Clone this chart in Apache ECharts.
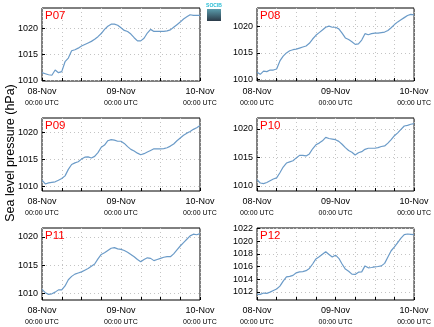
<!DOCTYPE html>
<html><head><meta charset="utf-8">
<script src="https://cdn.jsdelivr.net/npm/echarts@6/dist/echarts.min.js"></script>
<style>html,body{margin:0;padding:0;background:#fff}#c{width:434px;height:327px}</style>
</head><body><div id="c"></div>
<script>
// hours since 08-Nov 00:00 UTC
const hours = [0,1,2,3,4,5,6,7,8,9,10,11,12,13,14,15,16,17,18,19,20,21,22,23,24,25,26,27,28,29,30,31,32,33,34,35,36,37,38,39,40,41,42,43,44,45,46,47,48];
const xTickLabels = {0:'08-Nov', 24:'09-Nov', 48:'10-Nov'};
const xSubLabel = '00:00 UTC';
const stations = ['P07','P08','P09','P10','P11','P12'];
const p07 = [1011.5,1011.3,1011.1,1011.0,1012.0,1011.5,1011.7,1013.6,1014.3,1015.7,1015.9,1016.2,1016.6,1016.9,1017.2,1017.5,1017.9,1018.4,1019.0,1019.8,1020.4,1020.8,1020.8,1020.6,1020.1,1019.6,1019.4,1018.9,1018.2,1017.6,1017.6,1018.1,1019.1,1019.8,1019.4,1019.4,1019.4,1019.4,1019.5,1019.7,1020.2,1020.7,1021.2,1021.8,1022.2,1022.6,1022.5,1022.5,1022.5];
const p08 = [1011.4,1011.0,1011.6,1011.5,1011.8,1011.8,1012.0,1013.5,1014.4,1015.0,1015.4,1015.6,1015.7,1015.9,1016.1,1016.3,1016.8,1017.6,1018.3,1018.8,1019.3,1019.8,1020.0,1019.8,1019.8,1019.5,1018.7,1017.8,1017.5,1017.1,1016.6,1016.7,1017.4,1018.6,1018.4,1018.6,1018.7,1018.7,1018.8,1018.9,1019.2,1019.7,1020.3,1020.8,1021.2,1021.6,1022.0,1022.2,1022.1];
const p09 = [1011.1,1010.4,1010.6,1010.7,1010.8,1011.1,1011.4,1011.9,1013.1,1014.0,1014.3,1014.5,1015.0,1015.35,1015.4,1015.2,1015.5,1016.2,1017.2,1017.6,1018.4,1018.6,1018.5,1018.3,1018.3,1017.9,1017.3,1016.8,1016.5,1016.1,1015.8,1016.0,1016.3,1016.6,1016.9,1016.9,1016.9,1016.95,1017.1,1017.4,1017.8,1018.4,1018.9,1019.4,1019.8,1020.1,1020.5,1020.8,1021.2];
const p10 = [1011.1,1010.5,1010.4,1010.6,1010.9,1011.2,1011.4,1012.3,1013.3,1014.0,1014.2,1014.4,1014.9,1015.35,1015.35,1015.25,1015.6,1016.5,1017.2,1017.5,1017.9,1018.5,1018.3,1018.2,1018.1,1017.8,1017.3,1016.7,1016.2,1015.9,1015.4,1015.8,1016.0,1016.4,1016.6,1016.6,1016.6,1016.7,1016.9,1017.0,1017.5,1018.1,1018.8,1019.3,1019.9,1020.5,1020.6,1020.8,1020.9];
const p11 = [1010.7,1010.1,1009.8,1009.9,1010.2,1010.6,1010.6,1011.3,1012.4,1013.0,1013.4,1013.6,1013.8,1014.1,1014.4,1014.8,1015.2,1016.1,1016.9,1017.2,1017.6,1018.0,1018.1,1017.9,1017.8,1017.6,1017.3,1016.9,1016.5,1016.0,1015.6,1016.0,1016.3,1016.2,1015.8,1016.0,1016.2,1016.4,1016.5,1016.5,1017.0,1017.7,1018.4,1019.0,1019.6,1020.2,1020.5,1020.4,1020.6];
const p12 = [1011.6,1011.6,1011.8,1011.75,1011.95,1012.2,1012.45,1012.9,1013.7,1014.35,1014.45,1014.6,1015.0,1015.15,1015.2,1015.35,1015.7,1016.4,1017.2,1017.55,1017.95,1018.35,1017.9,1017.5,1017.8,1017.3,1016.4,1015.6,1015.25,1014.8,1014.75,1015.1,1015.15,1016.1,1015.8,1015.85,1015.95,1016.0,1016.1,1016.5,1017.5,1018.5,1019.1,1019.8,1020.5,1021.05,1021.15,1021.1,1021.05];
const yTicksA = [1010,1015,1020];
const yTicksP12 = [1012,1014,1016,1018,1020,1022];
const yRanges = [[1009.9,1023.9],[1009.75,1023.4],[1009.1,1022.6],[1009.1,1021.9],[1008.8,1021.6],[1010.7,1022.1]];
const yLabel = 'Sea level pressure (hPa)';

const allSeries = [p07,p08,p09,p10,p11,p12];
const allTicks = [yTicksA,yTicksA,yTicksA,yTicksA,yTicksA,yTicksP12];
const grids = [
  {left:42, top:8, width:158, height:73},
  {left:257, top:8, width:158, height:73},
  {left:42, top:118, width:158, height:73},
  {left:257, top:118, width:158, height:73},
  {left:42, top:228, width:158, height:72},
  {left:257, top:228, width:158, height:72}
];
const FONT = 'Liberation Sans';
const chart = echarts.init(document.getElementById('c'), null, {renderer:'canvas'});
const option = {
  backgroundColor:'#fff',
  animation:false,
  grid: grids.map(g => Object.assign({show:true, borderColor:'#000', borderWidth:1, backgroundColor:'transparent', containLabel:false}, g)),
  xAxis: grids.map((g,i) => ({
    type:'value', gridIndex:i, min:0, max:48, interval:6,
    axisLine:{show:false},
    axisTick:{show:true, inside:true, length:3, lineStyle:{color:'#000', width:1}},
    splitLine:{show:true, lineStyle:{color:'#c4c4c4', type:[1,3], width:1}},
    axisLabel:{
      show:true, margin:5, fontFamily:FONT, color:'#000',
      formatter: v => xTickLabels[v] ? '{a|' + xTickLabels[v] + '}\n{b|' + xSubLabel + '}' : '',
      rich:{a:{fontSize:9, fontFamily:FONT, color:'#000', lineHeight:12}, b:{fontSize:7, fontFamily:FONT, color:'#000', lineHeight:10}}
    }
  })),
  yAxis: grids.map((g,i) => ({
    type:'value', gridIndex:i, min:yRanges[i][0], max:yRanges[i][1],
    axisLine:{show:false},
    axisTick:{show:true, inside:true, length:3, customValues:allTicks[i], lineStyle:{color:'#000'}},
    splitLine:{show:true, lineStyle:{color:'#c4c4c4', type:[1,3], width:1}},
    axisLabel:{show:true, customValues:allTicks[i], formatter: v => String(Math.round(v)), fontSize:9, fontFamily:FONT, color:'#000', margin:4}
  })),
  series: allSeries.map((d,i) => ({
    type:'line', xAxisIndex:i, yAxisIndex:i, showSymbol:false, smooth:false,
    data: hours.map((h,k) => [h, d[k]]),
    lineStyle:{color:'#6b9bc8', width:1.2}
  })),
  graphic: [
    ...grids.map((g,i) => ({type:'text', left:g.left+3, top:g.top+2, z:10, style:{text:stations[i], fill:'#ff0000', font:'11.5px "Liberation Sans"'}})),
    {type:'text', rotation:Math.PI/2, x:4, y:153, z:10, style:{text:yLabel, fill:'#000', font:'12.5px "Liberation Sans"', align:'center', verticalAlign:'top'}},
    {type:'rect', shape:{x:207, y:9, width:14, height:12}, z:10, style:{fill:new echarts.graphic.LinearGradient(0,0,0,1,[{offset:0,color:'#5a9cac'},{offset:1,color:'#2b3a48'}])}},
    {type:'text', x:214, y:3, z:10, style:{text:'SOCIB', fill:'#26bcd4', font:'bold 5px "Liberation Sans"', align:'center'}}
  ]
};
chart.setOption(option);
</script></body></html>
